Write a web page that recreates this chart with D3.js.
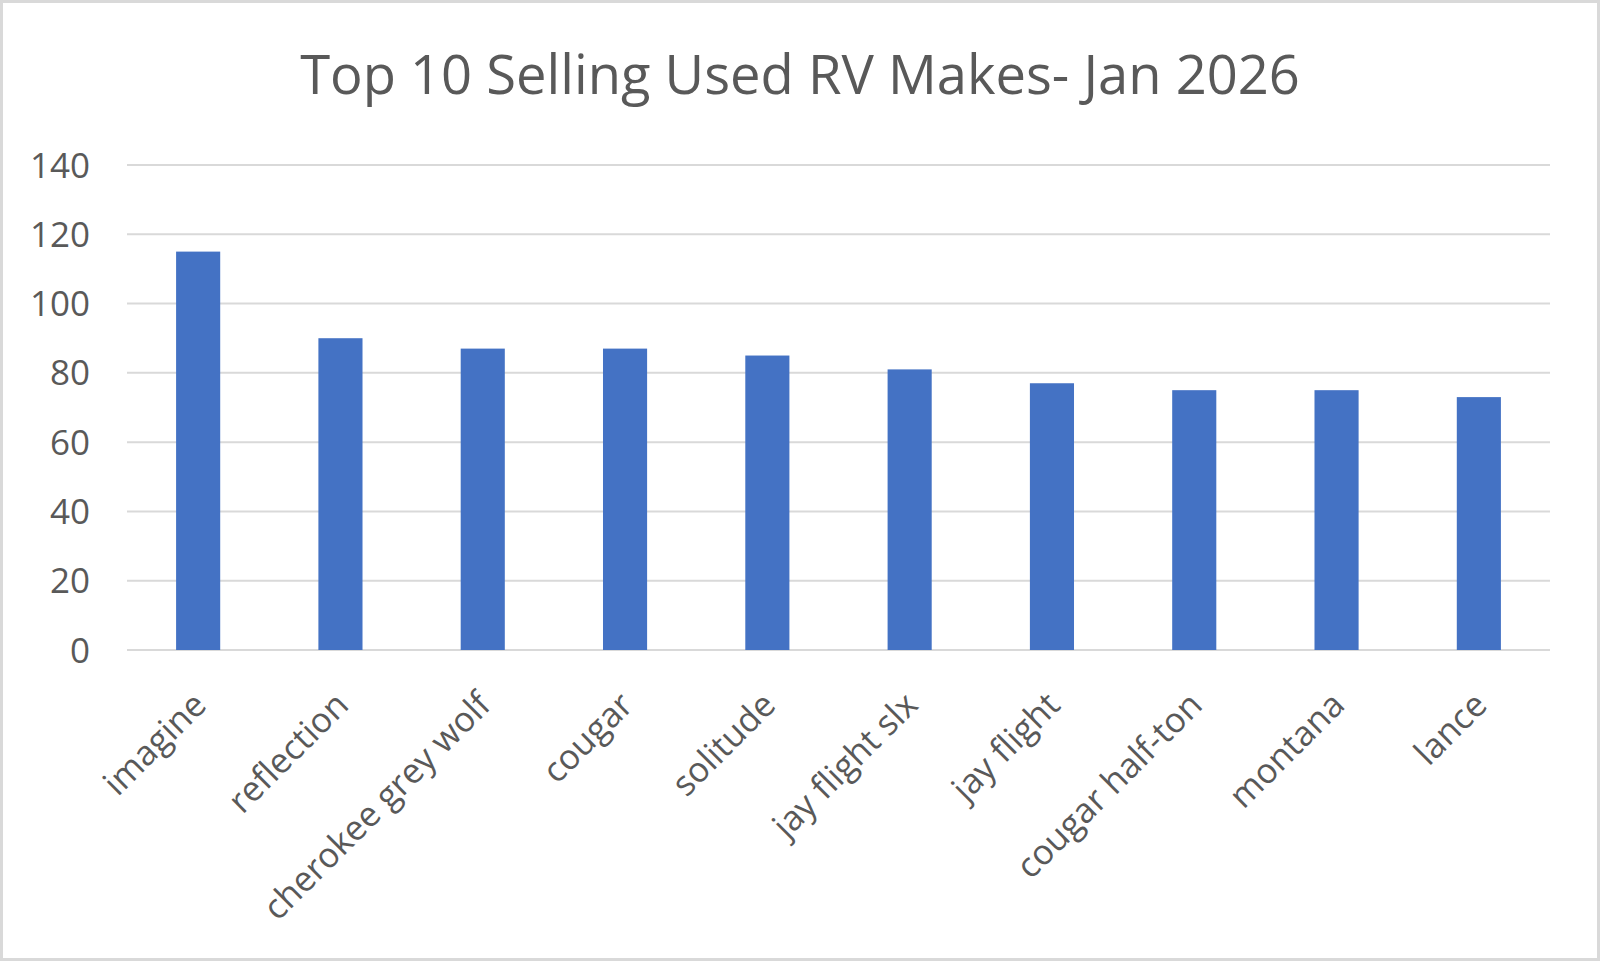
<!DOCTYPE html>
<meta charset="utf-8">
<script src="https://d3js.org/d3.v7.js"></script>
<style>
  body { margin: 0; background: #fff; }
  text { font-family: "Open Sans", sans-serif; fill: #595959; }
</style>
<body>
<div id="my_dataviz"></div>
<script>
const makes = ['imagine', 'reflection', 'cherokee grey wolf', 'cougar', 'solitude',
               'jay flight slx', 'jay flight', 'cougar half-ton', 'montana', 'lance'];
const sold = [115, 90, 87, 87, 85, 81, 77, 75, 75, 73];
const yTicks = [0, 20, 40, 60, 80, 100, 120, 140];
const title = 'Top 10 Selling Used RV Makes- Jan 2026';

const width = 1600, height = 961;
const plotLeft = 127, plotRight = 1550, plotTop = 165, plotBottom = 650;

const svg = d3.select('#my_dataviz')
  .append('svg')
    .attr('width', width)
    .attr('height', height);

// outer frame
svg.append('rect')
  .attr('x', 1.5).attr('y', 1.5)
  .attr('width', width - 3).attr('height', height - 3)
  .attr('fill', '#fff')
  .attr('stroke', '#d9d9d9')
  .attr('stroke-width', 3);

const x = d3.scaleBand()
  .domain(makes)
  .range([plotLeft, plotRight])
  .padding(0);

const y = d3.scaleLinear()
  .domain([0, 140])
  .range([plotBottom, plotTop]);

const barW = x.bandwidth() * 0.31;

// gridlines
svg.selectAll('.grid')
  .data(yTicks)
  .join('line')
    .attr('x1', plotLeft).attr('x2', plotRight)
    .attr('y1', d => y(d)).attr('y2', d => y(d))
    .attr('stroke', '#d9d9d9')
    .attr('stroke-width', 2);

// y labels
svg.selectAll('.ylab')
  .data(yTicks)
  .join('text')
    .attr('x', 90)
    .attr('y', d => y(d))
    .attr('dy', '0.36em')
    .attr('text-anchor', 'end')
    .style('font-size', '35px')
    .text(d => d);

// bars
svg.selectAll('.bar')
  .data(makes)
  .join('rect')
    .attr('x', d => x(d) + (x.bandwidth() - barW) / 2)
    .attr('width', barW)
    .attr('y', (d, i) => y(sold[i]))
    .attr('height', (d, i) => y(0) - y(sold[i]))
    .attr('fill', '#4472c4');

// x labels, rotated
svg.selectAll('.xlab')
  .data(makes)
  .join('text')
    .attr('transform', d => `translate(${x(d) + x.bandwidth() / 2 + 10}, 707) rotate(-45)`)
    .attr('text-anchor', 'end')
    .style('font-size', '34.5px')
    .text(d => d);

// title, fit to width of original
const t = svg.append('text')
  .attr('x', 800)
  .attr('y', 94)
  .attr('text-anchor', 'middle')
  .style('font-size', '52px')
  .text(title);
const tw = t.node().getComputedTextLength();
t.style('font-size', (52 * 1000 / tw) + 'px');
</script>
</body>
